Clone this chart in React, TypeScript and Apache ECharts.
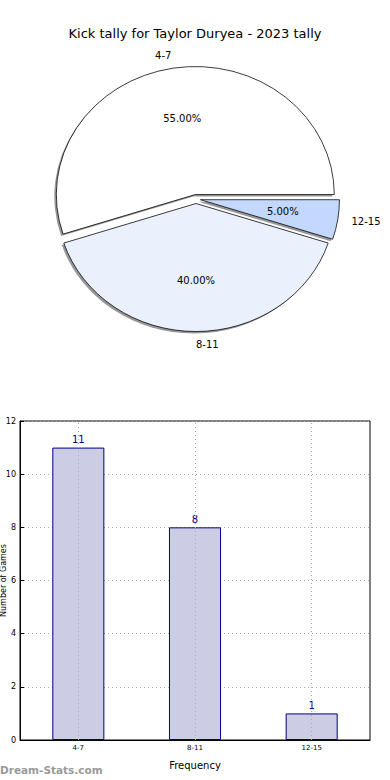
import React, { useEffect, useRef } from "react";
import * as echarts from "echarts";

const title = "Kick tally for Taylor Duryea - 2023 tally";
const categories = ["4-7", "8-11", "12-15"];
const counts = [11, 8, 1];
const pieColors = ["#ffffff", "#eaf1fd", "#c4d8fe"];
const yTicks = [0, 2, 4, 6, 8, 10, 12];
const xAxisName = "Frequency";
const yAxisName = "Number of Games";
const watermark = "Dream-Stats.com";

const FONT = "DejaVu Sans";

export default function App() {
  const ref = useRef<HTMLDivElement>(null);
  useEffect(() => {
    if (!ref.current) return;
    const chart = echarts.init(ref.current, null, { renderer: "svg" });
    const total = counts.reduce((a, b) => a + b, 0);
    const cum: number[] = [];
    let acc = 0;
    counts.forEach((v) => {
      cum.push(acc);
      acc += v;
    });
    const CX = 196;
    const CY = 199;
    const RX = 139;
    const RY = 128;
    const EXPL = 4.5;

    const renderItem = (params: any, api: any) => {
      const i = params.dataIndex;
      const v = api.value(0);
      const a1 = (cum[i] / total) * Math.PI * 2;
      const a2 = ((cum[i] + v) / total) * Math.PI * 2;
      const am = (a1 + a2) / 2;
      const ex = CX + EXPL * Math.cos(am);
      const ey = CY - EXPL * Math.sin(am);
      const lx = ex + 1.1 * RX * Math.cos(am);
      const ly = ey - 1.1 * RY * Math.sin(am);
      const px = ex + 0.6 * RX * Math.cos(am);
      const py = ey - 0.6 * RY * Math.sin(am);
      const shape = { cx: 0, cy: 0, r: RX, r0: 0, startAngle: -a2, endAngle: -a1, clockwise: true };
      return {
        type: "group",
        children: [
          {
            type: "sector",
            x: ex - 2,
            y: ey + 2,
            scaleY: RY / RX,
            z2: 1,
            shape,
            style: { fill: "#979797", stroke: "none" },
          },
          {
            type: "sector",
            x: ex,
            y: ey,
            scaleY: RY / RX,
            z2: 10,
            shape,
            style: { fill: pieColors[i], stroke: "#000", lineWidth: 0.8, strokeNoScale: true },
          },
          {
            type: "text",
            x: lx,
            y: ly,
            z2: 20,
            style: {
              text: categories[i],
              fill: "#000",
              font: `10px '${FONT}'`,
              align: Math.cos(am) > -0.0001 ? "left" : "right",
              verticalAlign: "middle",
            },
          },
          {
            type: "text",
            x: px,
            y: py,
            z2: 20,
            style: {
              text: ((v / total) * 100).toFixed(2) + "%",
              fill: "#000",
              font: `10px '${FONT}'`,
              align: "center",
              verticalAlign: "middle",
            },
          },
        ],
      };
    };

    chart.setOption({
      animation: false,
      backgroundColor: "#fff",
      textStyle: { fontFamily: FONT },
      title: {
        text: title,
        left: "center",
        top: 22,
        textStyle: { fontFamily: FONT, fontSize: 13, fontWeight: "normal", color: "#000" },
      },
      grid: {
        left: 20,
        top: 421,
        width: 350,
        height: 319,
        outerBoundsMode: "none",
        containLabel: false,
        show: true,
        borderColor: "#000",
        borderWidth: 1,
        backgroundColor: "transparent",
      },
      xAxis: {
        type: "category",
        data: categories,
        name: xAxisName,
        nameLocation: "middle",
        nameGap: 20,
        nameMoveOverlap: false,
        nameTextStyle: { fontFamily: FONT, fontSize: 10, color: "#000" },
        axisLine: { lineStyle: { color: "#000" } },
        axisTick: { inside: true, alignWithLabel: true, length: 4, lineStyle: { color: "#000" } },
        axisLabel: { fontFamily: FONT, fontSize: 7, color: "#000", margin: 4 },
        splitLine: { show: false },
      },
      yAxis: {
        type: "value",
        min: 0,
        max: 12,
        interval: 2,
        name: yAxisName,
        nameLocation: "middle",
        nameGap: 13,
        nameMoveOverlap: false,
        nameTextStyle: { fontFamily: FONT, fontSize: 8, color: "#000" },
        axisLine: { show: true, lineStyle: { color: "#000" } },
        axisTick: { show: true, inside: true, length: 4, lineStyle: { color: "#000" } },
        axisLabel: {
          fontFamily: FONT,
          fontSize: 8,
          color: "#000",
          margin: 4,
          formatter: (v: number) => (yTicks.includes(v) ? String(v) : ""),
        },
        splitLine: { show: true, lineStyle: { type: [1, 3], color: "#aaa", width: 1 } },
      },
      graphic: [
        {
          type: "text",
          left: 0,
          top: 764,
          style: { text: watermark, fill: "#9a9a9a", font: `bold 10.5px '${FONT}'` },
        },
      ],
      series: [
        {
          type: "custom",
          coordinateSystem: "none",
          renderItem,
          data: counts.map((c) => [c]),
          silent: true,
        },
        {
          type: "bar",
          data: counts,
          barWidth: "44.6%",
          itemStyle: { color: "#ccccE5", borderColor: "#000080", borderWidth: 1 },
          label: {
            show: true,
            position: "top",
            distance: 3,
            color: "#000080",
            fontFamily: FONT,
            fontSize: 10,
          },
          markLine: {
            silent: true,
            symbol: "none",
            label: { show: false },
            lineStyle: { type: [1, 3], color: "#aaa", width: 1 },
            data: categories.map((c) => ({ xAxis: c })),
          },
        },
      ],
    });
    return () => chart.dispose();
  }, []);
  return (
    <div
      ref={ref}
      style={{ position: "fixed", left: 0, top: 0, width: 390, height: 780, background: "#fff" }}
    />
  );
}
